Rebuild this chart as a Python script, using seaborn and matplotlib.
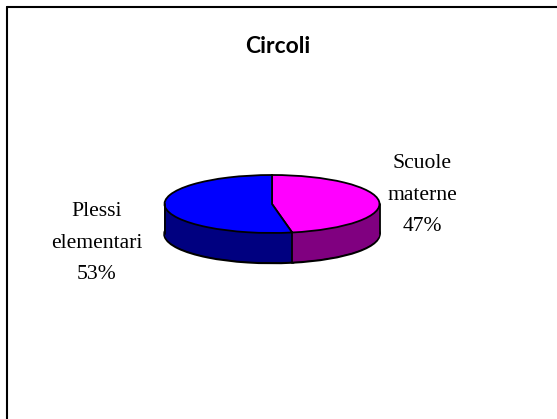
import seaborn as sns
import matplotlib.pyplot as plt
from matplotlib.lines import Line2D
import numpy as np

categorie = ['Scuole\nmaterne', 'Plessi\nelementari']
valori = [47, 53]
colori_sopra = ['#FF00FF', '#0000FF']
colori_lato = ['#800080', '#000080']

sns.set_theme(style='white')

fig = plt.figure(figsize=(5.57, 4.19), dpi=100)
ax = fig.add_axes([0, 0, 1, 1])

# scala in pixel dell'ellisse
cx, cy = 272, 204
rx, ry = 107.5, 29
spessore = 30 / ry

# contorno in basso, poi coperto dentro dalle fette scure
ax.pie(valori, colors=colori_lato, startangle=90, counterclock=False,
       center=(0, -spessore), wedgeprops={'linewidth': 1.8, 'edgecolor': 'black'})

# lato della torta: tante fette scure impilate
for d in np.linspace(spessore - 0.03, 0, 40):
    ax.pie(valori, colors=colori_lato, startangle=90, counterclock=False,
           center=(0, -d), wedgeprops={'linewidth': 0})

# spigoli verticali
ang = np.pi / 2 - 2 * np.pi * valori[0] / sum(valori)
ax.plot([np.cos(ang)] * 2, [np.sin(ang), np.sin(ang) - spessore], color='black', lw=1.3)
ax.plot([-1, -1], [0, -spessore], color='black', lw=1.3)
ax.plot([1, 1], [0, -spessore], color='black', lw=1.3)

# faccia superiore
ax.pie(valori, colors=colori_sopra, startangle=90, counterclock=False,
       wedgeprops={'linewidth': 1.3, 'edgecolor': 'black'})

ax.set_aspect('auto')
ax.set_xlim(-cx / rx, (557 - cx) / rx)
ax.set_ylim(-(419 - cy) / ry, cy / ry)
ax.axis('off')

# etichette
serif = ['Liberation Serif', 'DejaVu Serif']
fig.text(422 / 557, 1 - 195 / 419, f'{categorie[0]}\n{valori[0]}%', ha='center', va='center',
         fontsize=15.6, family=serif, color='black', linespacing=1.9)
fig.text(97 / 557, 1 - 243 / 419, f'{categorie[1]}\n{valori[1]}%', ha='center', va='center',
         fontsize=15.6, family=serif, color='black', linespacing=1.9)
fig.text(277.5 / 557, 1 - 46 / 419, 'Circoli', ha='center', va='center', fontsize=16.5,
         fontweight='bold', family=['Lato', 'DejaVu Sans'], color='black')

# cornice: solo sopra e a sinistra
fig.add_artist(Line2D([6.5 / 557, 6.5 / 557], [0, 1 - 7.5 / 419], color='black', lw=1.5))
fig.add_artist(Line2D([6.5 / 557, 1], [1 - 7.5 / 419, 1 - 7.5 / 419], color='black', lw=1.5))

fig.savefig('out.png', dpi=100)
